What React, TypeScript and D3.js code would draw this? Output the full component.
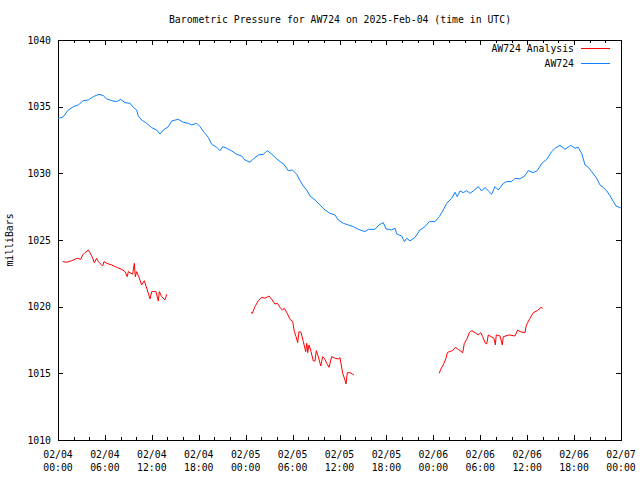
import React from "react";
import * as d3 from "d3";

// hours since 2025-02-04 00:00 UTC, pressure (mbar)
const aw724: [number, number][] = [
  [0.0, 1034.1], [0.17, 1034.13], [0.68, 1034.25], [1.32, 1034.75], [1.96, 1035.0], [2.6, 1035.13], [3.24, 1035.45],
  [3.88, 1035.5], [4.51, 1035.75], [5.24, 1035.93], [5.79, 1035.83], [6.23, 1035.58], [6.87, 1035.45],
  [7.51, 1035.38], [8.02, 1035.55], [8.57, 1035.3], [9.21, 1035.25], [9.63, 1034.95], [10.06, 1034.75],
  [10.27, 1034.3], [10.7, 1034.0], [11.34, 1033.75], [11.98, 1033.43], [12.62, 1033.25], [13.04, 1032.95],
  [13.47, 1033.25], [14.11, 1033.5], [14.54, 1033.93], [15.38, 1034.05], [16.02, 1033.83], [16.66, 1033.75],
  [17.1, 1033.63], [17.74, 1033.75], [18.16, 1033.5], [18.67, 1033.08], [19.22, 1032.7], [19.66, 1032.18],
  [20.3, 1031.95], [20.72, 1031.7], [21.06, 1032.0], [21.57, 1031.88], [22.21, 1031.68], [22.85, 1031.43],
  [23.49, 1031.3], [23.91, 1031.0], [24.55, 1030.83], [24.98, 1031.08], [25.62, 1031.38], [26.26, 1031.43],
  [26.77, 1031.7], [27.33, 1031.45], [27.88, 1031.13], [28.39, 1030.88], [28.9, 1030.68], [29.45, 1030.2],
  [29.96, 1030.25], [30.53, 1029.93], [30.95, 1029.45], [31.37, 1029.05], [31.88, 1028.68], [32.23, 1028.3],
  [32.87, 1028.0], [33.51, 1027.63], [34.15, 1027.25], [34.79, 1027.0], [35.42, 1026.88], [35.85, 1026.5],
  [36.49, 1026.25], [37.13, 1026.13], [37.77, 1026.0], [38.41, 1025.8], [39.26, 1025.63], [39.68, 1025.8],
  [40.54, 1025.8], [41.05, 1026.13], [41.6, 1026.3], [41.95, 1025.83], [42.68, 1025.75], [43.1, 1025.88],
  [43.32, 1025.45], [43.96, 1025.3], [44.29, 1024.88], [44.59, 1025.13], [45.02, 1024.93], [45.66, 1025.2],
  [46.3, 1025.75], [46.93, 1026.0], [47.48, 1026.38], [48.21, 1026.38], [48.76, 1026.75], [49.27, 1027.25],
  [49.71, 1027.75], [50.35, 1028.13], [50.77, 1028.58], [51.06, 1028.25], [51.41, 1028.68], [51.83, 1028.55],
  [52.27, 1028.7], [52.69, 1028.5], [53.11, 1028.68], [53.75, 1029.0], [54.18, 1028.68], [54.61, 1028.95],
  [55.03, 1028.68], [55.46, 1028.43], [55.89, 1029.0], [56.31, 1028.75], [56.95, 1029.25], [57.38, 1029.38],
  [58.02, 1029.38], [58.44, 1029.63], [59.08, 1029.58], [59.72, 1029.83], [60.14, 1030.2], [60.78, 1030.05],
  [61.3, 1030.2], [61.86, 1030.75], [62.5, 1031.05], [63.14, 1031.63], [63.56, 1031.88], [64.2, 1032.1],
  [64.84, 1031.8], [65.57, 1032.1], [66.12, 1031.88], [66.54, 1031.95], [66.97, 1031.5], [67.4, 1030.63],
  [67.82, 1030.45], [68.25, 1030.13], [68.89, 1029.63], [69.31, 1029.13], [69.74, 1028.95], [70.17, 1028.68],
  [70.59, 1028.33], [71.02, 1027.88], [71.36, 1027.55], [71.78, 1027.45], [72.0, 1027.4],
];

const analysisA: [number, number][] = [
  [0.6, 1023.38], [1.11, 1023.33], [1.75, 1023.45], [2.17, 1023.55], [2.47, 1023.63], [2.9, 1023.55],
  [3.16, 1023.88], [3.45, 1024.05], [3.88, 1024.25], [4.09, 1024.05], [4.44, 1023.63], [4.64, 1023.3],
  [4.95, 1023.63], [5.15, 1023.38], [5.5, 1023.18], [5.72, 1023.05], [5.88, 1023.38], [6.23, 1023.25],
  [6.87, 1023.13], [7.51, 1022.95], [8.15, 1022.8], [8.57, 1022.63], [8.86, 1022.25], [8.99, 1022.63],
  [9.55, 1022.43], [9.76, 1023.25], [9.89, 1022.25], [10.06, 1022.63], [10.32, 1022.25], [10.7, 1021.63],
  [11.04, 1021.95], [11.42, 1021.25], [11.77, 1020.58], [11.98, 1021.13], [12.53, 1021.13], [12.83, 1020.43],
  [12.96, 1021.13], [13.26, 1020.75], [13.68, 1020.5], [13.9, 1020.93],
];

const analysisB: [number, number][] = [
  [24.68, 1019.58], [24.85, 1019.5], [25.19, 1020.0], [25.62, 1020.45], [26.05, 1020.7], [26.47, 1020.63],
  [26.98, 1020.8], [27.33, 1020.55], [27.75, 1020.2], [28.05, 1020.25], [28.39, 1019.95], [28.69, 1019.75],
  [28.94, 1019.88], [29.32, 1019.5], [29.67, 1019.05], [30.02, 1018.88], [30.22, 1018.13], [30.44, 1017.75],
  [30.65, 1017.3], [30.82, 1018.13], [31.08, 1018.08], [31.37, 1017.38], [31.68, 1016.63], [31.81, 1017.25],
  [31.93, 1016.55], [32.1, 1017.13], [32.36, 1016.63], [32.65, 1015.93], [32.87, 1015.93], [33.03, 1016.7],
  [33.29, 1016.25], [33.6, 1015.55], [33.85, 1016.25], [34.06, 1016.13], [34.36, 1015.75], [34.66, 1015.45],
  [35.0, 1016.25], [35.42, 1016.13], [35.85, 1016.08], [36.06, 1016.18], [36.41, 1015.0], [36.7, 1014.5],
  [36.83, 1014.2], [37.0, 1015.05], [37.34, 1015.05], [37.69, 1014.93], [37.85, 1014.88],
];

const analysisC: [number, number][] = [
  [48.76, 1015.0], [48.94, 1015.3], [49.27, 1015.63], [49.62, 1016.13], [49.79, 1016.55], [50.04, 1016.63],
  [50.48, 1016.7], [50.81, 1016.95], [51.19, 1016.8], [51.76, 1016.55], [51.96, 1017.25], [52.27, 1017.55],
  [52.6, 1018.05], [52.91, 1018.2], [53.33, 1018.05], [53.75, 1017.88], [54.06, 1018.05], [54.31, 1017.75],
  [54.61, 1017.3], [54.82, 1017.2], [55.03, 1017.88], [55.38, 1017.75], [55.76, 1017.63], [55.93, 1017.13],
  [56.05, 1017.88], [56.53, 1017.8], [56.82, 1017.13], [56.95, 1017.75], [57.72, 1017.88], [58.44, 1017.8],
  [58.79, 1018.25], [59.08, 1018.13], [59.72, 1018.05], [59.85, 1018.5], [60.02, 1018.75], [60.36, 1019.13],
  [60.79, 1019.55], [61.3, 1019.7], [61.77, 1019.95], [61.99, 1019.88],
];

const yTicks = [1010, 1015, 1020, 1025, 1030, 1035, 1040];
const xDateLabels = ["02/04", "02/04", "02/04", "02/04", "02/05", "02/05", "02/05", "02/05", "02/06", "02/06", "02/06", "02/06", "02/07"];
const xTimeLabels = ["00:00", "06:00", "12:00", "18:00", "00:00", "06:00", "12:00", "18:00", "00:00", "06:00", "12:00", "18:00", "00:00"];

const title = "Barometric Pressure for AW724 on 2025-Feb-04 (time in UTC)";
const yLabel = "milliBars";
const legendNames = ["AW724 Analysis", "AW724"];
const RED = "#ff0000";
const BLUE = "#0a80ff";

export default function App() {
  const W = 640, H = 480;
  const L = 58, R = 621, T = 40, B = 440;
  const x = d3.scaleLinear().domain([0, 72]).range([L, R]);
  const y = d3.scaleLinear().domain([1010, 1040]).range([B, T]);
  const line = d3.line<[number, number]>().x((d) => x(d[0])).y((d) => y(d[1]));
  const font = "'DejaVu Sans Mono', 'Liberation Mono', monospace";
  const fs = 9.8;
  const xMinor = d3.range(0, 73, 2);

  return (
    <svg width={W} height={H} style={{ position: "absolute", left: 0, top: 0, background: "#fff" }} fontFamily={font} fontSize={fs}>
      <rect x={0} y={0} width={W} height={H} fill="#fff" />
      <text x={340} y={23} textAnchor="middle" fill="#000">{title}</text>
      <text transform={`translate(13,240) rotate(-90)`} textAnchor="middle" fill="#000">{yLabel}</text>
      <g shapeRendering="crispEdges" stroke="#000" strokeWidth={1}>
        {xMinor.map((h) => {
          const len = h % 6 === 0 ? 5 : 3;
          const px = Math.round(x(h)) + 0.5;
          return (
            <g key={h}>
              <line x1={px} x2={px} y1={B} y2={B - len} />
              <line x1={px} x2={px} y1={T} y2={T + len} />
            </g>
          );
        })}
        {yTicks.map((v) => {
          const py = Math.round(y(v)) + 0.5;
          return (
            <g key={v}>
              <line x1={L} x2={L + 5} y1={py} y2={py} />
              <line x1={R} x2={R - 5} y1={py} y2={py} />
            </g>
          );
        })}
        <rect x={L + 0.5} y={T + 0.5} width={R - L} height={B - T} fill="none" />
      </g>
      {yTicks.map((v) => (
        <text key={v} x={51} y={y(v) + 3.5} textAnchor="end" fill="#000">{v}</text>
      ))}
      {xDateLabels.map((d, i) => (
        <g key={i}>
          <text x={x(i * 6)} y={458} textAnchor="middle" fill="#000">{d}</text>
          <text x={x(i * 6)} y={471} textAnchor="middle" fill="#000">{xTimeLabels[i]}</text>
        </g>
      ))}
      <g fill="none" strokeWidth={1}>
        {[analysisA, analysisB, analysisC].map((seg, i) => (
          <path key={i} d={line(seg) || ""} stroke={RED} />
        ))}
        <path d={line(aw724) || ""} stroke={BLUE} />
      </g>
      <g>
        <text x={574} y={51.5} textAnchor="end" fill="#000">{legendNames[0]}</text>
        <line x1={581} x2={610} y1={48.5} y2={48.5} stroke={RED} />
        <text x={574} y={66.5} textAnchor="end" fill="#000">{legendNames[1]}</text>
        <line x1={581} x2={610} y1={63.5} y2={63.5} stroke={BLUE} />
      </g>
    </svg>
  );
}
